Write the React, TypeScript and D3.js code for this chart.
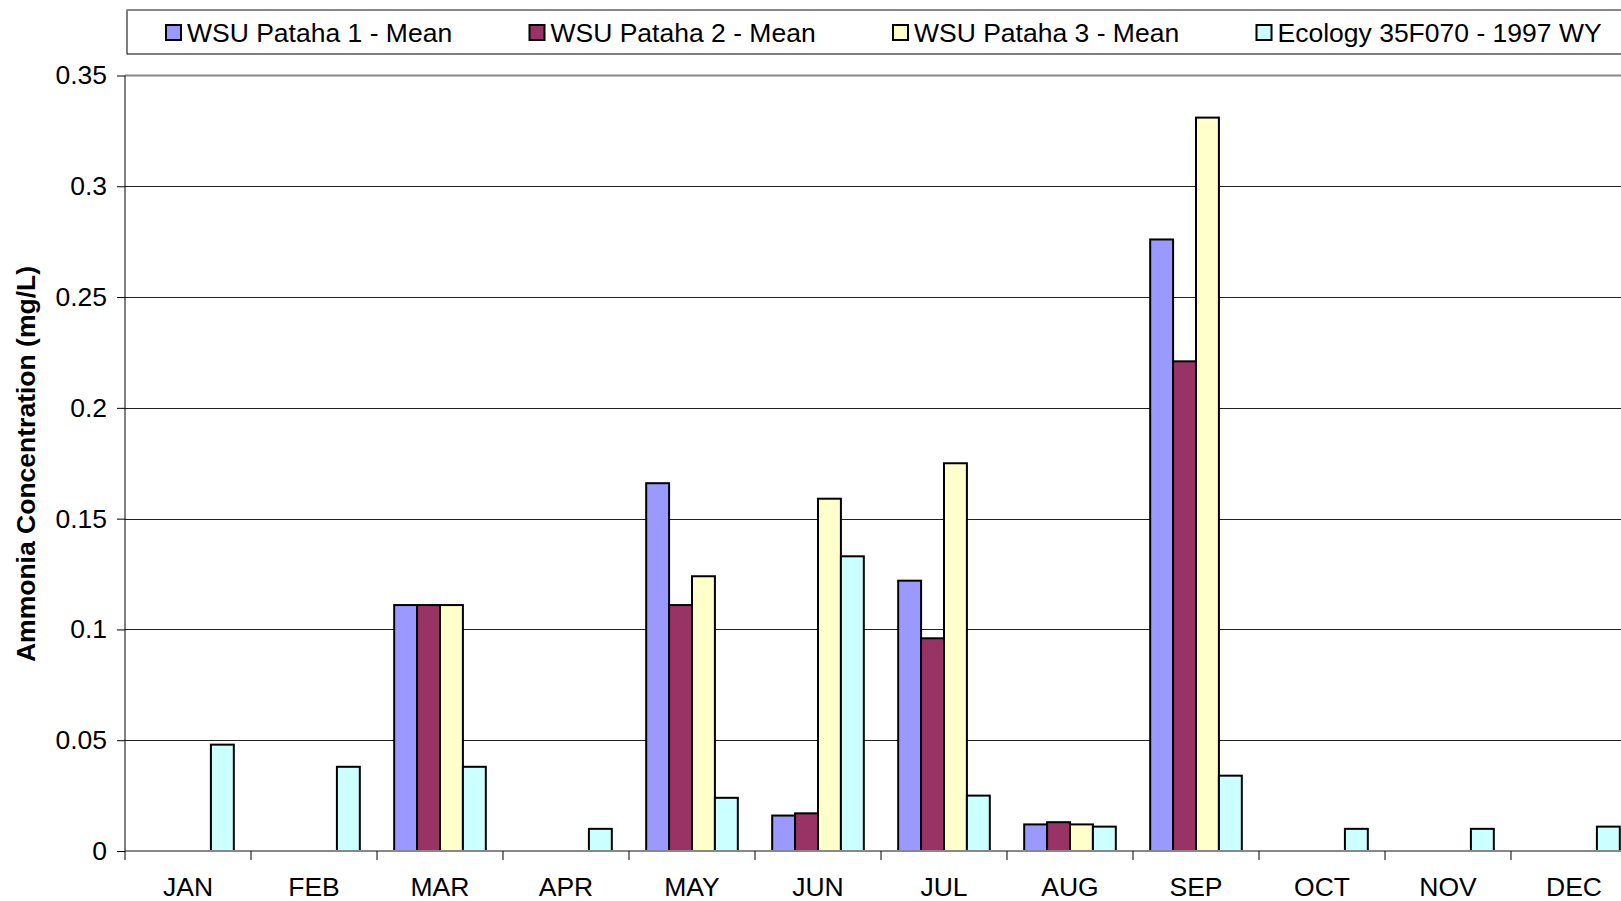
import React, { useEffect, useRef } from 'react'
import * as d3 from 'd3'

// chart values
const months = ['JAN', 'FEB', 'MAR', 'APR', 'MAY', 'JUN', 'JUL', 'AUG', 'SEP', 'OCT', 'NOV', 'DEC']
const seriesNames = ['WSU Pataha 1 - Mean', 'WSU Pataha 2 - Mean', 'WSU Pataha 3 - Mean', 'Ecology 35F070 - 1997 WY']
const pataha1 = [null, null, 0.111, null, 0.166, 0.016, 0.122, 0.012, 0.276, null, null, null]
const pataha2 = [null, null, 0.111, null, 0.111, 0.017, 0.096, 0.013, 0.221, null, null, null]
const pataha3 = [null, null, 0.111, null, 0.124, 0.159, 0.175, 0.012, 0.331, null, null, null]
const ecology = [0.048, 0.038, 0.038, 0.010, 0.024, 0.133, 0.025, 0.011, 0.034, 0.010, 0.010, 0.011]
const yTicks = [0, 0.05, 0.1, 0.15, 0.2, 0.25, 0.3, 0.35]
const colors = ['#9999FF', '#993366', '#FFFFCC', '#CCFFFF']

const W = 1621, H = 901
const FONT = '"Liberation Sans", Arial, sans-serif'

export default function App() {
  const ref = useRef<SVGSVGElement>(null)

  useEffect(() => {
    const svg = d3.select(ref.current)
    svg.selectAll('*').remove()

    // plot area (runs off the right edge, like the reference)
    const left = 125, top = 75.5, bottom = 851
    const right = left + 12 * 126

    const x = d3.scaleBand().domain(months).range([left, right])
    const xs = d3.scaleBand().domain(seriesNames).range([0, x.bandwidth()]).paddingOuter(0.75)
    const y = d3.scaleLinear().domain([0, 0.35]).range([bottom, top])

    // gridlines
    svg.append('g').selectAll('line').data(yTicks.slice(1, -1)).join('line')
      .attr('x1', left).attr('x2', right)
      .attr('y1', d => Math.round(y(d)) + 0.5).attr('y2', d => Math.round(y(d)) + 0.5)
      .attr('stroke', '#222').attr('stroke-width', 1)

    // top border of plot
    svg.append('line').attr('x1', left).attr('x2', right)
      .attr('y1', y(0.35)).attr('y2', y(0.35))
      .attr('stroke', '#888').attr('stroke-width', 2)

    // bars
    const data = [pataha1, pataha2, pataha3, ecology]
    data.forEach((vals, si) => {
      svg.append('g').selectAll('rect')
        .data(vals.map((v, i) => ({ m: months[i], v })).filter(d => d.v != null))
        .join('rect')
        .attr('x', d => x(d.m)! + xs(seriesNames[si])!)
        .attr('y', d => y(d.v as number))
        .attr('width', xs.bandwidth())
        .attr('height', d => bottom - y(d.v as number))
        .attr('fill', colors[si])
        .attr('stroke', '#000').attr('stroke-width', 2)
    })

    // zero line
    svg.append('line').attr('x1', left).attr('x2', right)
      .attr('y1', bottom).attr('y2', bottom)
      .attr('stroke', '#888').attr('stroke-width', 2)

    // y axis
    const yAxis = svg.append('g').attr('transform', `translate(${left},0)`)
      .call(d3.axisLeft(y).tickValues(yTicks).tickSize(8).tickPadding(10)
        .tickFormat(d => String(+(+d).toFixed(2))))
    yAxis.select('.domain').attr('stroke', '#000').attr('d', `M0,${top}V${bottom}`)
    yAxis.selectAll('text').style('font-family', FONT).style('font-size', '26.5px').attr('fill', '#000')

    // x axis ticks at category boundaries
    svg.append('g').selectAll('line').data(months.map((m, i) => i)).join('line')
      .attr('x1', i => left + i * x.step()).attr('x2', i => left + i * x.step())
      .attr('y1', bottom).attr('y2', bottom + 9)
      .attr('stroke', '#000')

    svg.append('g').selectAll('text').data(months).join('text')
      .attr('x', d => x(d)! + x.bandwidth() / 2)
      .attr('y', 896)
      .attr('text-anchor', 'middle')
      .style('font-family', FONT).style('font-size', '26.5px')
      .text(d => d)

    // y axis title
    svg.append('text')
      .attr('transform', `translate(35, 464) rotate(-90)`)
      .attr('text-anchor', 'middle')
      .style('font-family', FONT).style('font-size', '26.5px').style('font-weight', 'bold')
      .text('Ammonia Concentration (mg/L)')

    // legend
    svg.append('rect').attr('x', 127).attr('y', 10).attr('width', 1520).attr('height', 44)
      .attr('fill', '#fff').attr('stroke', '#000').attr('stroke-width', 1)
    svg.append('line').attr('x1', 127).attr('x2', 1647).attr('y1', 10).attr('y2', 10)
      .attr('stroke', '#888').attr('stroke-width', 2)
    const lg = svg.append('g').selectAll('g').data(seriesNames).join('g')
      .attr('transform', (d, i) => `translate(${166 + i * 363.5}, 0)`)
    lg.append('rect').attr('x', 0).attr('y', 25).attr('width', 15).attr('height', 15)
      .attr('fill', (d, i) => colors[i]).attr('stroke', '#000').attr('stroke-width', 2)
    lg.append('text').attr('x', 21).attr('y', 42)
      .style('font-family', FONT).style('font-size', '26.5px')
      .text(d => d)
  }, [])

  return (
    <div style={{ position: 'absolute', left: 0, top: 0, width: W, height: H, background: '#fff' }}>
      <svg ref={ref} width={W} height={H} style={{ display: 'block' }} />
    </div>
  )
}
